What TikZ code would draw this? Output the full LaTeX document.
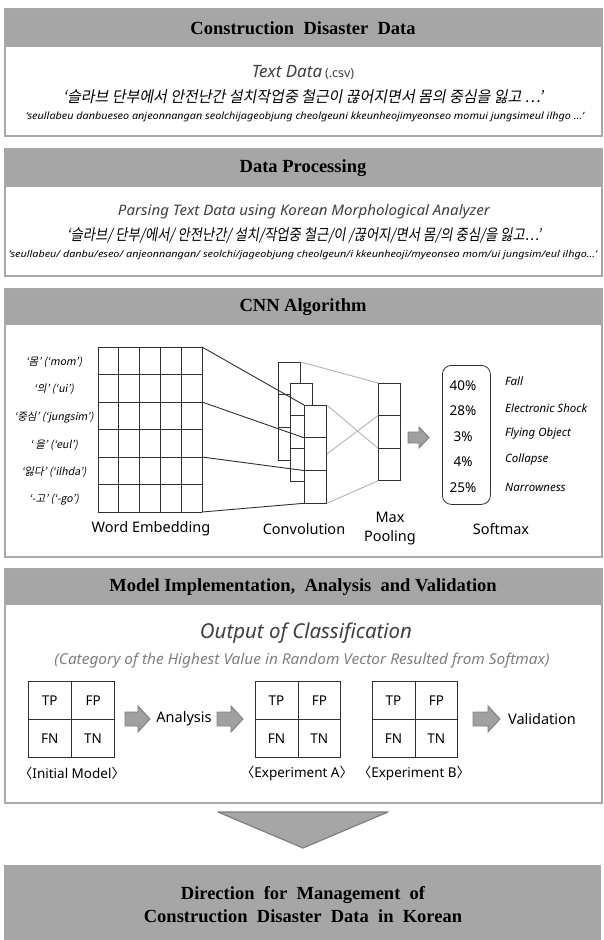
\documentclass[tikz,border=0pt]{standalone}
\usepackage{fontspec}
\usepackage{graphicx}
\setmainfont{Liberation Serif}
\newfontfamily\ns{Noto Sans}
\newfontfamily\kr{Noto Sans CJK KR}
\newfontfamily\krit[FakeSlant=0.2]{Noto Sans CJK KR}
\definecolor{hdr}{HTML}{A6A6A6}
\definecolor{brd}{HTML}{A8A8A8}
\definecolor{arrfill}{HTML}{A0A0A0}
\definecolor{arrdraw}{HTML}{7F7F7F}
\definecolor{lgray}{HTML}{B4B4B4}
\definecolor{txtg}{HTML}{404040}
\definecolor{txtl}{HTML}{808080}
\definecolor{ln}{HTML}{303030}
\newcommand\fitto[2]{\resizebox{#1}{\height}{#2}}
\newcommand\blockarrow[6]{%
  \filldraw[barrow] (#1,{#3-#4}) -- ({#2-#6},{#3-#4}) -- ({#2-#6},{#3-#5}) -- (#2,#3)
    -- ({#2-#6},{#3+#5}) -- ({#2-#6},{#3+#4}) -- (#1,{#3+#4}) -- cycle;}
\newcommand\cmatrix[4]{% name, x0, x1, ytop
  \node[draw=ln, line width=0.8pt, minimum width={#3-#2}, minimum height=76pt, inner sep=0, anchor=north west] (#1) at (#2,#4) {};
  \draw[ln, line width=0.8pt] (#1.north) -- (#1.south) (#1.west) -- (#1.east);
  \node[cell] (#1tp) at ($(#1.north west)!0.5!(#1.center)$) {TP};
  \node[cell] (#1fp) at ($(#1.north east)!0.5!(#1.center)$) {FP};
  \node[cell] (#1fn) at ($(#1.south west)!0.5!(#1.center)$) {FN};
  \node[cell] (#1tn) at ($(#1.south east)!0.5!(#1.center)$) {TN};}
\usetikzlibrary{calc}
\begin{document}
\begin{tikzpicture}[x=1pt,y=-1pt,
  hbar/.style={fill=hdr, inner sep=0, minimum width=597pt, anchor=north west},
  panel/.style={draw=brd, line width=2pt, inner sep=0, minimum width=597pt, anchor=north west},
  title/.style={font=\fontsize{18.5}{23}\selectfont\bfseries, text=black, align=center},
  barrow/.style={fill=arrfill, draw=arrdraw, line width=0.9pt},
  lbl/.style={font=\ns\fontsize{14.5}{16}\selectfont, inner sep=0},
  emb/.style={font=\krit\fontsize{10.5}{12}\selectfont, inner sep=0},
  cls/.style={font=\ns\itshape\fontsize{11.5}{13}\selectfont, inner sep=0, anchor=west},
  pct/.style={font=\ns\fontsize{13.5}{15}\selectfont, inner sep=0},
  cell/.style={font=\ns\fontsize{13.5}{15}\selectfont, inner sep=0},
  layer/.style={draw=ln, line width=0.8pt, fill=white},
  conn/.style={ln, line width=0.9pt},
  lconn/.style={lgray, line width=0.9pt}]
\useasboundingbox (0,0) rectangle (603,940);
\fill[white] (0,0) rectangle (603,940);

% ---------- Box 1
\node[hbar, minimum height=39pt] (h1) at (4,8) {};
\node[panel, minimum height=127pt] (b1) at (4,8) {};
\node[title] (t1) at (303,28) {Construction\ \ Disaster\ \ Data};
\node[font=\ns\itshape\fontsize{17}{19}\selectfont, text=txtg, inner sep=0] (td) at (303,72) {Text Data\,{\upshape\fontsize{12.5}{14}\selectfont(.csv)}};
\node[font=\krit\fontsize{15.5}{18}\selectfont, inner sep=0] (k1) at (303,97) {\fitto{480pt}{‘슬라브 단부에서 안전난간 설치작업중 철근이 끊어지면서 몸의 중심을 잃고 …’}};
\node[font=\ns\itshape\fontsize{10}{11}\selectfont, inner sep=0] (r1) at (305,117) {\fitto{558pt}{‘seullabeu danbueseo anjeonnangan seolchijageobjung cheolgeuni kkeunheojimyeonseo momui jungsimeul ilhgo …’}};

% ---------- Box 2
\node[hbar, minimum height=39pt] (h2) at (4,148) {};
\node[panel, minimum height=127pt] (b2) at (4,148) {};
\node[title] (t2) at (303,168) {Data Processing};
\node[font=\ns\itshape\fontsize{14.5}{16}\selectfont, text=txtg, inner sep=0] (pa) at (304,212) {\fitto{372pt}{Parsing Text Data using Korean Morphological Analyzer}};
\node[font=\krit\fontsize{15.5}{18}\selectfont, inner sep=0] (k2) at (304,235) {\fitto{474pt}{‘슬라브/ 단부/에서/ 안전난간/ 설치/작업중 철근/이 /끊어지/면서 몸/의 중심/을 잃고…’}};
\node[font=\ns\itshape\fontsize{9.5}{11}\selectfont, inner sep=0] (r2) at (303,255) {\fitto{588pt}{‘seullabeu/ danbu/eseo/ anjeonnangan/ seolchi/jageobjung cheolgeun/i kkeunheoji/myeonseo mom/ui jungsim/eul ilhgo…’}};

% ---------- Box 3 (CNN)
\node[hbar, minimum height=37pt] (h3) at (4,288) {};
\node[panel, minimum height=268pt] (b3) at (4,288) {};
\node[title] (t3) at (303,307) {CNN Algorithm};

% word embedding grid
\foreach \x in {98,118.8,139.6,160.4,181.2,202} \draw[ln, line width=0.7pt] (\x,347) -- (\x,512);
\foreach \y in {374.5,429.5,484.5} \draw[ln, line width=0.7pt] (98,\y) -- (202,\y);
\foreach \y in {347,402,457,512} \draw[ln, line width=1pt] (98,\y) -- (202,\y);
\coordinate (e0) at (202,347);
\coordinate (e1) at (202,402);
\coordinate (e2) at (202,457);
\coordinate (e3) at (202,512);
\node[emb] (w1) at (54,362) {‘몸’ (‘mom’)};
\node[emb] (w2) at (54,389) {‘의’ (‘ui’)};
\node[emb] (w3) at (54,417) {‘중심’ (‘jungsim’)};
\node[emb] (w4) at (54,445) {‘ 을’ (‘eul’)};
\node[emb] (w5) at (54,472) {‘잃다’ (‘ilhda’)};
\node[emb] (w6) at (54,500) {‘-고’ (‘-go’)};

% convolution layers
\foreach \n/\xa/\ya in {L1/278/362, L2/290/383, L3/304/405} {
  \node[layer, minimum width=22pt, minimum height=97.5pt, inner sep=0, anchor=north west] (\n) at (\xa,\ya) {};
  \draw[ln, line width=0.8pt] ($(\n.north west)!1/3!(\n.south west)$) coordinate (\n a) -- ($(\n.north east)!1/3!(\n.south east)$) coordinate (\n A);
  \draw[ln, line width=0.8pt] ($(\n.north west)!2/3!(\n.south west)$) coordinate (\n b) -- ($(\n.north east)!2/3!(\n.south east)$) coordinate (\n B);
}
\node[layer, minimum width=22pt, minimum height=97pt, inner sep=0, anchor=north west] (MP) at (378,383) {};
\draw[ln, line width=0.8pt] ($(MP.north west)!1/3!(MP.south west)$) coordinate (MPa) -- ($(MP.north east)!1/3!(MP.south east)$);
\draw[ln, line width=0.8pt] ($(MP.north west)!2/3!(MP.south west)$) coordinate (MPb) -- ($(MP.north east)!2/3!(MP.south east)$);

\draw[conn] (e0) -- (L3.north west);
\draw[conn] (e1) -- (L3a);
\draw[conn] (e2) -- (L3b);
\draw[conn] (e3) -- (L3.south west);
\draw[lconn] (L1.north east) -- (MP.north west);
\draw[lconn] (L3.north east) -- (MPb);
\draw[lconn] ($(L3.north east)!0.5!(L3.south east)$) -- (MPa);
\draw[lconn] (L3.south east) -- (MP.south west);

\blockarrow{408}{429}{437.5}{5.5}{10.5}{10}

\node[draw=ln, line width=0.8pt, rounded corners=9pt, minimum width=48pt, minimum height=139pt, inner sep=0, anchor=north west] (SM) at (442,365) {};
\node[pct] (p1) at (463,385.5) {40\%};
\node[pct] (p2) at (463,411) {28\%};
\node[pct] (p3) at (463,436.5) {3\%};
\node[pct] (p4) at (463,462) {4\%};
\node[pct] (p5) at (463,487.5) {25\%};
\node[cls] (c1) at (505,381) {Fall};
\node[cls] (c2) at (505,408) {Electronic Shock};
\node[cls] (c3) at (505,434) {Flying Object};
\node[cls] (c4) at (505,460) {Collapse};
\node[cls] (c5) at (505,487) {Narrowness};

\node[lbl] (we) at (151,529) {Word Embedding};
\node[lbl] (cv) at (304,529) {Convolution};
\node[lbl] (mx1) at (390,517) {Max};
\node[lbl] (mx2) at (390,538) {Pooling};
\node[lbl] (sf) at (501,529) {Softmax};

% ---------- Box 4
\node[hbar, minimum height=37pt] (h4) at (4,568) {};
\node[panel, minimum height=234pt] (b4) at (4,568) {};
\node[title] (t4) at (303,587) {Model Implementation,\ \ Analysis\ \ and Validation};
\node[font=\ns\itshape\fontsize{20.5}{23}\selectfont, text=txtg, inner sep=0] (oc) at (306,633) {\fitto{212pt}{Output of Classification}};
\node[font=\ns\itshape\fontsize{15}{17}\selectfont, text=txtl, inner sep=0] (cat) at (302,661) {\fitto{495pt}{(Category of the Highest Value in Random Vector Resulted from Softmax)}};

\cmatrix{m0}{28}{114}{681}
\cmatrix{mA}{255}{340}{681}
\cmatrix{mB}{372}{457}{681}
\blockarrow{125}{150}{719}{7}{13}{12}
\node[lbl] (an) at (184,719) {Analysis};
\blockarrow{217}{243}{719}{7}{13}{12}
\blockarrow{473}{500}{719}{7}{13}{12}
\node[lbl] (va) at (542,719) {Validation};
\node[font=\ns\fontsize{13.5}{15}\selectfont, inner sep=0] (l0) at (72,773) {{\kr 〈}Initial Model{\kr 〉}};
\node[font=\ns\fontsize{13.5}{15}\selectfont, inner sep=0] (lA) at (297,773) {{\kr 〈}Experiment A{\kr 〉}};
\node[font=\ns\fontsize{13.5}{15}\selectfont, inner sep=0] (lB) at (414,773) {{\kr 〈}Experiment B{\kr 〉}};

% ---------- triangle and final box
\filldraw[fill=hdr, draw=arrdraw, line width=1.2pt, line join=round] (218,812) -- (388,812) -- (303,848) -- cycle;
\node[fill=hdr, inner sep=0, minimum width=597pt, minimum height=75pt, anchor=north west] (bf) at (4,865) {};
\node[title] (tf) at (303,905) {Direction\ \ for\ \ Management\ \ of\\Construction\ \ Disaster\ \ Data\ \ in\ \ Korean};
\end{tikzpicture}
\end{document}
